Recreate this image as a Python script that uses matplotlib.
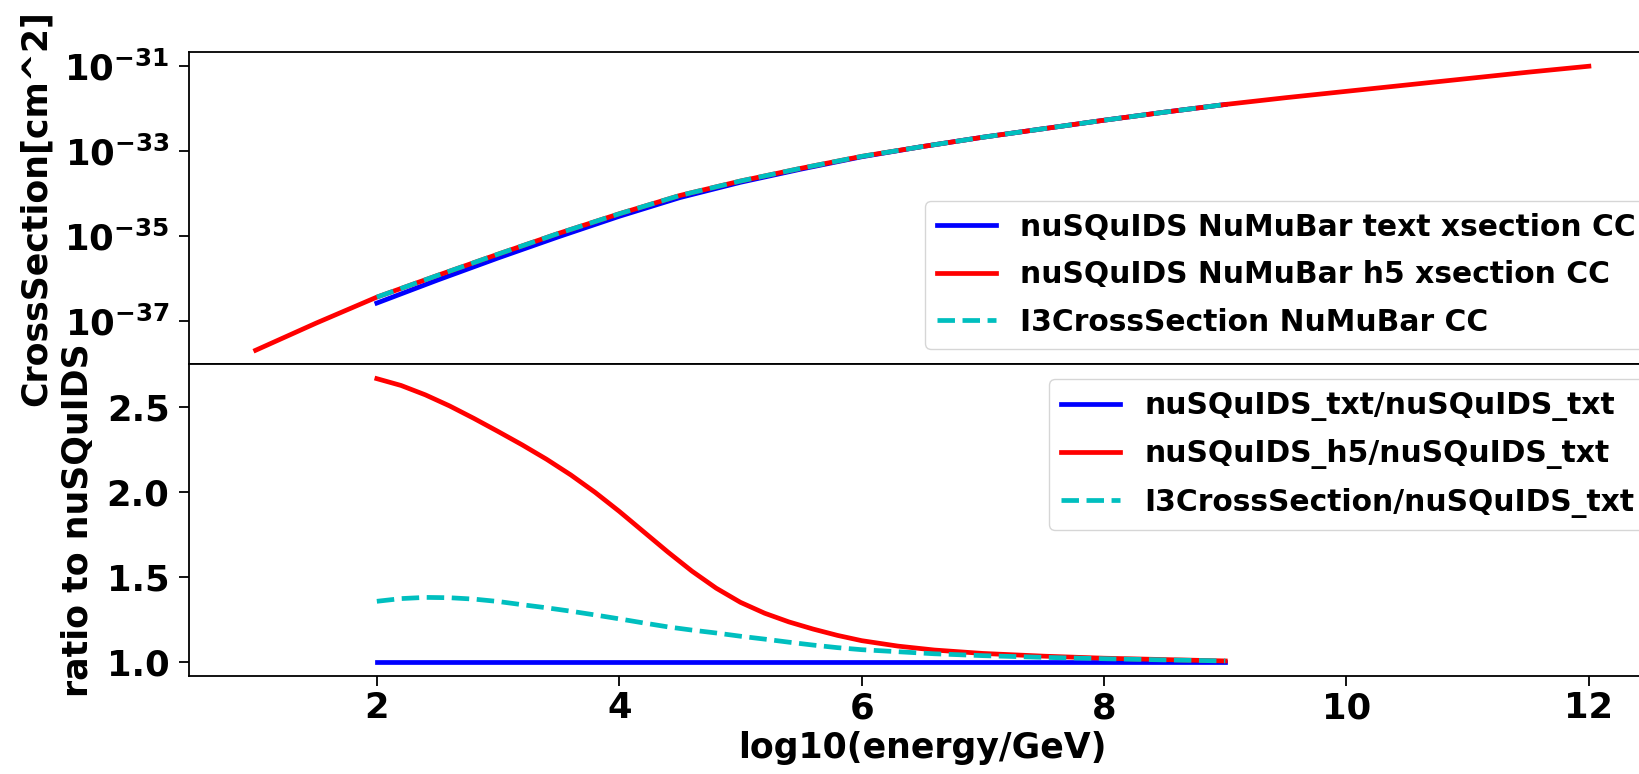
import math

import matplotlib
matplotlib.use("Agg")
import matplotlib.pyplot as plt
from matplotlib.ticker import FuncFormatter, NullLocator

plt.rcParams['font.family'] = 'DejaVu Sans'
plt.rcParams['font.weight'] = 'bold'
plt.rcParams['axes.labelweight'] = 'bold'
plt.rcParams['mathtext.fontset'] = 'custom'
plt.rcParams['mathtext.rm'] = 'DejaVu Sans:bold'
plt.rcParams['mathtext.bf'] = 'DejaVu Sans:bold'
plt.rcParams['mathtext.it'] = 'DejaVu Sans:bold'

# --- top panel: log10 of cross section [cm^2] vs log10(E/GeV)
xs_energy = [1.0, 1.5, 2.0, 2.5, 3.0, 3.5, 4.0, 4.5, 5.0, 5.5, 6.0, 6.5,
             7.0, 7.5, 8.0, 8.5, 9.0, 9.5, 10.0, 10.5, 11.0, 11.5, 12.0]
xs_h5_log = [-37.69, -37.05, -36.44, -35.93, -35.43, -34.94, -34.48, -34.05,
             -33.71, -33.41, -33.13, -32.90, -32.68, -32.48, -32.28, -32.09,
             -31.91, -31.75, -31.60, -31.45, -31.30, -31.15, -31.01]

txt_energy = [2.0, 2.5, 3.0, 3.5, 4.0, 4.5, 5.0, 5.5, 6.0, 6.5, 7.0, 7.5, 8.0, 8.5, 9.0]
xs_txt_log = [-36.58, -36.04, -35.52, -35.02, -34.54, -34.10, -33.74, -33.43,
              -33.14, -32.90, -32.68, -32.48, -32.28, -32.09, -31.91]
xs_i3_log = [-36.44, -35.93, -35.43, -34.94, -34.48, -34.05, -33.71, -33.41,
             -33.13, -32.90, -32.68, -32.48, -32.28, -32.09, -31.91]

# --- bottom panel: ratios to nuSQuIDS txt
ratio_energy = [2.0, 2.2, 2.4, 2.6, 2.8, 3.0, 3.2, 3.4, 3.6, 3.8, 4.0, 4.2,
                4.4, 4.6, 4.8, 5.0, 5.2, 5.4, 5.6, 5.8, 6.0, 6.3, 6.6, 7.0,
                7.5, 8.0, 8.5, 9.0]
ratio_txt = [1.0] * len(ratio_energy)
ratio_h5 = [2.665, 2.625, 2.570, 2.505, 2.432, 2.355, 2.276, 2.192, 2.100,
            1.998, 1.886, 1.767, 1.648, 1.535, 1.435, 1.352, 1.288, 1.237,
            1.195, 1.158, 1.127, 1.095, 1.072, 1.052, 1.036, 1.024, 1.016,
            1.008]
ratio_i3 = [1.358, 1.374, 1.381, 1.379, 1.371, 1.357, 1.338, 1.320, 1.300,
            1.278, 1.255, 1.231, 1.208, 1.189, 1.172, 1.153, 1.136, 1.118,
            1.101, 1.086, 1.074, 1.062, 1.050, 1.039, 1.029, 1.021, 1.014,
            1.008]

top_yticks = [1e-37, 1e-35, 1e-33, 1e-31]

LW = 3.4
TICK_FS = 25.5
LABEL_FS = 25
LEG_FS = 21.4

fig = plt.figure(figsize=(16.39, 7.74), dpi=100)
ax1 = fig.add_axes([0.1153, 0.5291, 0.8948, 0.4037])
ax2 = fig.add_axes([0.1153, 0.1260, 0.8948, 0.4031])

ax1.plot(txt_energy, [10 ** v for v in xs_txt_log], color='b', lw=LW,
         label='nuSQuIDS NuMuBar text xsection CC')
ax1.plot(xs_energy, [10 ** v for v in xs_h5_log], color='r', lw=LW,
         label='nuSQuIDS NuMuBar h5 xsection CC')
ax1.plot(txt_energy, [10 ** v for v in xs_i3_log], color='c', lw=LW, ls='--',
         label='I3CrossSection NuMuBar CC')
ax1.set_yscale('log')
ax1.set_yticks(top_yticks)
ax1.yaxis.set_minor_locator(NullLocator())
ax1.yaxis.set_major_formatter(FuncFormatter(
    lambda v, p: r'$\mathrm{10^{%d}}$' % round(math.log10(v))))
ax1.set_xticks([])
ax1.set_ylabel('CrossSection[cm^2]', fontsize=LABEL_FS)
ax1.legend(loc='upper left', bbox_to_anchor=(0.5644, 0.7403),
           bbox_transform=fig.transFigure, borderaxespad=0,
           fontsize=LEG_FS, labelspacing=0.62)

ax2.plot(ratio_energy, ratio_txt, color='b', lw=LW,
         label='nuSQuIDS_txt/nuSQuIDS_txt')
ax2.plot(ratio_energy, ratio_h5, color='r', lw=LW,
         label='nuSQuIDS_h5/nuSQuIDS_txt')
ax2.plot(ratio_energy, ratio_i3, color='c', lw=LW, ls='--',
         label='I3CrossSection/nuSQuIDS_txt')
ax2.set_xlim(ax1.get_xlim())
ax2.set_xticks([2, 4, 6, 8, 10, 12])
ax2.set_yticks([1.0, 1.5, 2.0, 2.5])
ax2.set_xlabel('log10(energy/GeV)', fontsize=LABEL_FS)
ax2.set_ylabel('ratio to nuSQuIDS', fontsize=LABEL_FS)
ax2.legend(loc='upper left', bbox_to_anchor=(0.640, 0.5103),
           bbox_transform=fig.transFigure, borderaxespad=0,
           fontsize=LEG_FS, labelspacing=0.62)

for ax in (ax1, ax2):
    for s in ax.spines.values():
        s.set_linewidth(1.3)
    ax.tick_params(axis='both', labelsize=TICK_FS, length=7, width=1.3)
    ax.tick_params(axis='y', pad=7)
    for lab in ax.get_xticklabels() + ax.get_yticklabels():
        lab.set_fontweight('bold')

ax1.yaxis.set_label_coords(-0.093, 0.5)
ax2.yaxis.set_label_coords(-0.064, 0.5)

fig.savefig('out.png', dpi=100)
